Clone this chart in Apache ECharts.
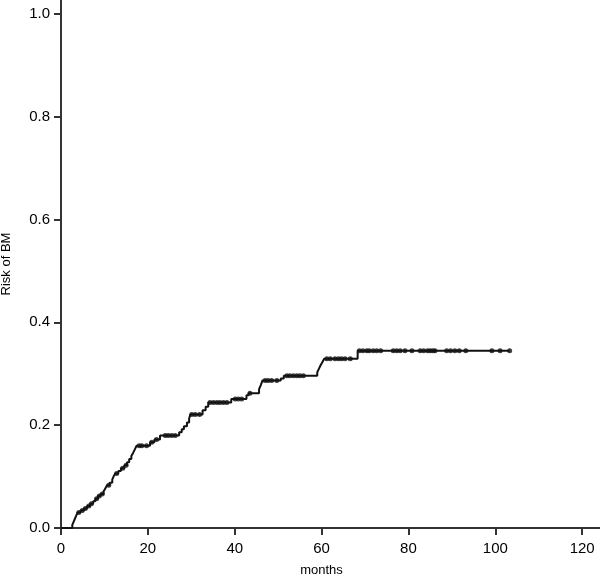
<!DOCTYPE html>
<html>
<head>
<meta charset="utf-8">
<script src="https://cdn.jsdelivr.net/npm/echarts@6.0.0/dist/echarts.min.js"></script>
<style>
  html, body { margin: 0; padding: 0; background: #fff; }
  #chart { width: 600px; height: 577px; }
</style>
</head>
<body>
<div id="chart"></div>
<script>
// step points of the cumulative risk curve: time (months) and risk after the event
const eventTimes = [0, 2.6, 2.9, 3.2, 3.5, 3.8, 4.5, 5.3, 6.0, 6.7, 7.4, 7.9, 8.5, 9.1, 9.8,
    10.2, 10.6, 11.2, 11.8, 12.1, 12.5, 13.2, 13.8, 14.6, 15.2, 15.7, 16.2, 16.6, 17.0, 17.4,
    20.5, 21.5, 22.8, 27.2, 27.8, 28.3, 29.0, 29.5, 29.8, 32.6, 33.3, 33.9, 39.2, 42.7, 43.2,
    45.6, 46.0, 46.4, 50.6, 51.3, 59.0, 59.4, 59.8, 60.2, 60.6, 68.3, 103.3];
const eventRisk = [0, 0.006, 0.012, 0.018, 0.024, 0.030, 0.034, 0.038, 0.043, 0.047, 0.052, 0.057, 0.062, 0.066, 0.071,
    0.077, 0.083, 0.088, 0.094, 0.100, 0.106, 0.111, 0.116, 0.122, 0.128, 0.134, 0.140, 0.146, 0.153, 0.160,
    0.167, 0.172, 0.180, 0.186, 0.192, 0.198, 0.205, 0.213, 0.221, 0.229, 0.236, 0.244, 0.251, 0.258, 0.262,
    0.270, 0.278, 0.287, 0.291, 0.296, 0.303, 0.310, 0.317, 0.323, 0.329, 0.345, 0.345];

// censored observations (months)
const censorTimes = [4.1, 4.9, 5.6, 6.4, 7.0, 8.2, 8.8, 9.5, 11.0, 12.8, 14.2, 15.0, 18.0, 18.6, 19.7,
    20.9, 22.0, 24.0, 24.7, 25.5, 26.3, 30.1, 30.9, 31.9, 34.3, 35.1, 35.9, 36.6, 37.4, 38.2,
    40.1, 40.8, 41.6, 43.5, 47.0, 47.7, 48.5, 49.7, 52.0, 52.7, 53.5, 54.3, 55.0, 55.8,
    61.2, 62.0, 63.1, 63.9, 64.6, 65.4, 66.6, 68.7, 69.5, 70.4, 71.0, 71.9, 72.7, 73.6,
    76.5, 77.3, 78.1, 79.2, 80.8, 82.7, 83.5, 84.4, 85.0, 85.6, 86.1, 88.8, 89.7, 90.7,
    91.7, 93.2, 99.2, 101.1, 103.3];

const xTicks = [0, 20, 40, 60, 80, 100, 120];
const yTicks = [0, 0.2, 0.4, 0.6, 0.8, 1.0];

function riskAt(t) {
    let r = 0;
    for (let i = 0; i < eventTimes.length; i++) {
        if (eventTimes[i] <= t) r = eventRisk[i];
    }
    return r;
}

const curveData = eventTimes.map((t, i) => [t, eventRisk[i]]);
const censorData = censorTimes.map(t => [t, riskAt(t)]);

const labelFont = {color: '#000', fontFamily: 'Liberation Sans', fontSize: 15};

let chart = echarts.init(document.getElementById('chart'));
chart.setOption({
    backgroundColor: '#fff',
    animation: false,
    grid: {left: 61, right: 0, top: 0, bottom: 49, outerBoundsMode: 'none', containLabel: false},
    xAxis: {
        type: 'value',
        min: 0,
        max: 124.1,
        name: 'months',
        nameLocation: 'middle',
        nameGap: 36,
        nameTextStyle: {color: '#000', fontFamily: 'Liberation Sans', fontSize: 13, padding: [0, 18, 0, 0]},
        axisLine: {lineStyle: {color: '#333', width: 2}},
        axisTick: {customValues: xTicks, length: 7, lineStyle: {color: '#333', width: 2}},
        axisLabel: Object.assign({customValues: xTicks, margin: 13}, labelFont),
        splitLine: {show: false}
    },
    yAxis: {
        type: 'value',
        min: 0,
        max: 1.027,
        name: 'Risk of BM',
        nameLocation: 'middle',
        nameGap: 48,
        nameTextStyle: {color: '#000', fontFamily: 'Liberation Sans', fontSize: 13},
        axisLine: {lineStyle: {color: '#333', width: 2}},
        axisTick: {customValues: yTicks, length: 7, lineStyle: {color: '#333', width: 2}},
        axisLabel: Object.assign({customValues: yTicks, margin: 11, formatter: v => v.toFixed(1)}, labelFont),
        splitLine: {show: false}
    },
    series: [
        {
            name: 'risk',
            type: 'line',
            step: 'end',
            data: curveData,
            symbol: 'none',
            lineStyle: {color: '#111', width: 2}
        },
        {
            name: 'censored',
            type: 'scatter',
            data: censorData,
            symbol: 'circle',
            symbolSize: 5,
            itemStyle: {color: '#111'}
        }
    ]
});
</script>
</body>
</html>
